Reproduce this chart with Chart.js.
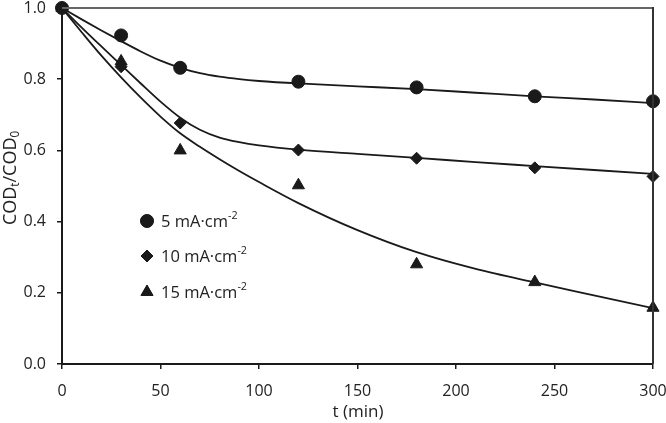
<!DOCTYPE html>
<html>
<head>
<meta charset="utf-8">
<script src="https://cdn.jsdelivr.net/npm/chart.js@4.4.0/dist/chart.umd.min.js"></script>
<style>
  html, body { margin: 0; padding: 0; background: #fff; }
  #wrap { width: 666px; height: 423px; position: relative; }
</style>
</head>
<body>
<div id="wrap"><canvas id="cod"></canvas></div>
<script>
// measured points
var times = [0, 30, 60, 120, 180, 240, 300];
var cod5 = [1.0, 0.923, 0.832, 0.793, 0.777, 0.752, 0.738];
var cod10 = [1.0, 0.835, 0.677, 0.601, 0.578, 0.551, 0.527];
var cod15 = [1.0, 0.85, 0.60, 0.502, 0.28, 0.23, 0.158];

// fitted curves
var fitT = [0, 10, 20, 30, 40, 50, 60, 70, 80, 90, 100, 120, 150, 180, 210, 240, 270, 300];
var fit5 = [1.0, 0.968, 0.937, 0.907, 0.878, 0.852, 0.832, 0.817, 0.807, 0.800, 0.795, 0.788, 0.780, 0.772, 0.762, 0.752, 0.743, 0.733];
var fit10 = [1.0, 0.945, 0.892, 0.840, 0.788, 0.737, 0.692, 0.658, 0.636, 0.623, 0.614, 0.602, 0.590, 0.579, 0.567, 0.556, 0.545, 0.534];
var fit15 = [1.0, 0.932, 0.866, 0.805, 0.748, 0.695, 0.648, 0.610, 0.575, 0.542, 0.511, 0.452, 0.376, 0.314, 0.267, 0.229, 0.193, 0.157];

var legendLabels = [
    [{t: '5 mA·cm'}, {t: '-2', s: 'sup'}],
    [{t: '10 mA·cm'}, {t: '-2', s: 'sup'}],
    [{t: '15 mA·cm'}, {t: '-2', s: 'sup'}]
];
var markerStyles = ['circle', 'rectRot', 'triangle'];
var markerSizes = [6.5, 6, 7];

var ink = '#1a1a1a';
var fontName = '"Open Sans", sans-serif';

function pts(xs, ys) {
    return xs.map(function (x, i) { return {x: x, y: ys[i]}; });
}

function richWidth(ctx, parts, size) {
    var w = 0;
    parts.forEach(function (p) {
        ctx.font = (p.s ? size * 0.65 : size) + 'px ' + fontName;
        w += ctx.measureText(p.t).width;
    });
    return w;
}

function drawRich(ctx, parts, x, y, size) {
    parts.forEach(function (p) {
        var fs = p.s ? size * 0.65 : size;
        ctx.font = fs + 'px ' + fontName;
        var dy = p.s == 'sup' ? -size * 0.35 : (p.s == 'sub' ? size * 0.28 : 0);
        ctx.fillText(p.t, x, y + dy);
        x += ctx.measureText(p.t).width;
    });
}

var extras = {
    id: 'extras',
    afterDraw: function (chart) {
        var ctx = chart.ctx;
        var a = chart.chartArea;
        ctx.save();
        // top and right frame
        ctx.lineWidth = 2;
        ctx.strokeStyle = '#666';
        ctx.beginPath();
        ctx.moveTo(a.left, a.top);
        ctx.lineTo(a.right, a.top);
        ctx.stroke();
        ctx.strokeStyle = '#333';
        ctx.beginPath();
        ctx.moveTo(a.right, a.top - 1);
        ctx.lineTo(a.right, a.bottom);
        ctx.stroke();

        ctx.fillStyle = ink;
        ctx.textBaseline = 'middle';
        ctx.textAlign = 'left';

        // legend
        var rows = [221, 256, 292];
        rows.forEach(function (ry, i) {
            ctx.fillStyle = ink;
            ctx.strokeStyle = ink;
            ctx.lineWidth = 1;
            Chart.helpers.drawPoint(ctx, {pointStyle: markerStyles[i], radius: markerSizes[i], borderWidth: 1}, 147, ry);
            ctx.fill();
            ctx.fillStyle = '#222';
            drawRich(ctx, legendLabels[i], 161, ry + 1, 16.5);
        });

        // x title
        ctx.font = '17px ' + fontName;
        ctx.textAlign = 'center';
        ctx.fillText('t (min)', 358, 412);

        // y title
        var yTitle = [{t: 'COD'}, {t: 't', s: 'sub'}, {t: '/COD'}, {t: '0', s: 'sub'}];
        ctx.textAlign = 'left';
        ctx.translate(11, 178);
        ctx.rotate(-Math.PI / 2);
        var w = richWidth(ctx, yTitle, 18);
        drawRich(ctx, yTitle, -w / 2, 0, 18);
        ctx.restore();
    }
};

function fixY(s) { s.width = 62; s.paddingTop = 0; s.paddingBottom = 0; }
function fixX(s) { s.height = 59; s.paddingLeft = 0; s.paddingRight = 0; }

new Chart(document.getElementById('cod'), {
    type: 'scatter',
    data: {
        datasets: [
            {label: 'p5', data: pts(times, cod5), pointStyle: 'circle', pointRadius: markerSizes[0], backgroundColor: ink, borderColor: ink, showLine: false, clip: false},
            {label: 'p10', data: pts(times, cod10), pointStyle: 'rectRot', pointRadius: markerSizes[1], backgroundColor: ink, borderColor: ink, showLine: false, clip: false},
            {label: 'p15', data: pts(times, cod15), pointStyle: 'triangle', pointRadius: markerSizes[2], backgroundColor: ink, borderColor: ink, showLine: false, clip: false},
            {label: 'f5', data: pts(fitT, fit5), showLine: true, pointRadius: 0, borderColor: ink, borderWidth: 1.8, cubicInterpolationMode: 'monotone'},
            {label: 'f10', data: pts(fitT, fit10), showLine: true, pointRadius: 0, borderColor: ink, borderWidth: 1.8, cubicInterpolationMode: 'monotone'},
            {label: 'f15', data: pts(fitT, fit15), showLine: true, pointRadius: 0, borderColor: ink, borderWidth: 1.8, cubicInterpolationMode: 'monotone'}
        ]
    },
    options: {
        responsive: true,
        maintainAspectRatio: false,
        animation: false,
        layout: {padding: {top: 6, right: 13, left: 0, bottom: 0}},
        plugins: {legend: {display: false}, tooltip: {enabled: false}},
        scales: {
            x: {
                type: 'linear', min: 0, max: 300,
                afterFit: fixX,
                border: {display: true, color: ink, width: 2},
                grid: {drawOnChartArea: false, drawTicks: true, tickLength: 5, tickColor: ink, lineWidth: 1.5},
                ticks: {stepSize: 50, color: '#222', padding: 13, font: {family: fontName, size: 16}}
            },
            y: {
                min: 0, max: 1,
                afterFit: fixY,
                border: {display: true, color: ink, width: 2},
                grid: {drawOnChartArea: false, drawTicks: true, tickLength: 5, tickColor: ink, lineWidth: 1.5},
                ticks: {stepSize: 0.2, color: '#222', padding: 11, font: {family: fontName, size: 16},
                    callback: function (v) { return v.toFixed(1); }}
            }
        }
    },
    plugins: [extras]
});
</script>
</body>
</html>
